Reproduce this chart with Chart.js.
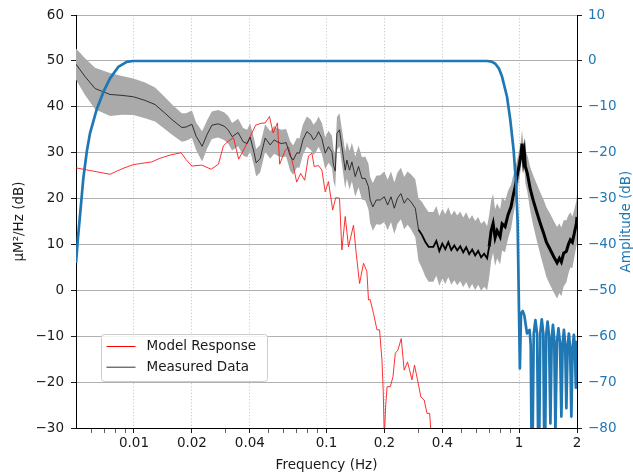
<!DOCTYPE html>
<html>
<head>
<meta charset="utf-8">
<script src="https://cdn.jsdelivr.net/npm/chart.js@4/dist/chart.umd.min.js"></script>
<style>
  html, body { margin: 0; padding: 0; background: #fff; }
  #wrap { width: 633px; height: 472px; }
</style>
</head>
<body>
<div id="wrap"><canvas id="c" width="633" height="472"></canvas></div>
<script>
// Measured power spectral density (mean and one-sigma spread), µM²/Hz in dB
const measuredFreq = [
  0.005, 0.00557, 0.00628, 0.00751, 0.00867, 0.00993, 0.01142, 0.01287, 0.01451, 0.01578,
  0.01772, 0.01865, 0.02, 0.02103, 0.02259, 0.02399, 0.02538, 0.02736, 0.02939, 0.03084,
  0.03235, 0.03476, 0.0369, 0.03871, 0.04012, 0.04209, 0.04311, 0.04522, 0.04801, 0.051,
  0.05348, 0.05543, 0.05815, 0.06173, 0.06475, 0.06712, 0.07016, 0.07238, 0.07538, 0.07908,
  0.08295, 0.08558, 0.08839, 0.09086, 0.09463, 0.09847, 0.1024, 0.1067, 0.1087, 0.111,
  0.1133, 0.1168, 0.1202, 0.1251, 0.1276, 0.1317, 0.1355, 0.141, 0.1467, 0.1528,
  0.1589, 0.1652, 0.1685, 0.1741, 0.1813, 0.1901, 0.1996, 0.2077, 0.2163, 0.225,
  0.2338, 0.2435, 0.2532, 0.2636, 0.2745, 0.2892, 0.3006, 0.3131, 0.3257, 0.3391,
  0.3589, 0.372, 0.3855, 0.3995, 0.4141, 0.4291, 0.4447, 0.4609, 0.4776, 0.495,
  0.513, 0.5317, 0.551, 0.571, 0.5918, 0.6133, 0.6356, 0.6587, 0.6827, 0.6992,
  0.7161, 0.7334, 0.7511, 0.7693, 0.7973, 0.8166, 0.8462, 0.877, 0.9089, 0.9309,
  0.9534, 0.9765, 1.004, 1.022, 1.037, 1.053, 1.066, 1.078, 1.104, 1.145,
  1.187, 1.241, 1.291, 1.343, 1.387, 1.455, 1.508, 1.576, 1.62, 1.659,
  1.705, 1.761, 1.804, 1.847, 1.892, 1.938, 1.984, 2.0
];
const measuredDb = [
  49.3, 46.6, 44.0, 42.7, 42.5, 42.2, 41.4, 40.5, 38.6, 37.2,
  35.5, 35.6, 36.2, 33.6, 31.4, 34.0, 36.0, 36.3, 35.8, 35.0,
  33.5, 34.4, 32.4, 32.0, 33.4, 30.0, 27.8, 28.7, 33.2, 31.7,
  32.8, 32.4, 32.0, 32.2, 29.3, 28.4, 30.0, 29.9, 32.8, 34.6,
  33.9, 32.8, 33.5, 34.6, 33.1, 29.9, 31.3, 30.2, 27.3, 26.0,
  34.2, 35.0, 31.3, 26.2, 28.4, 26.2, 28.0, 24.8, 27.0, 24.4,
  24.4, 22.6, 19.7, 18.2, 19.7, 19.7, 20.4, 18.6, 20.4, 17.9,
  20.1, 21.1, 19.0, 20.1, 19.3, 17.9, 13.2, 12.1, 10.6, 9.5,
  9.5, 10.8, 8.6, 10.2, 9.0, 10.5, 8.8, 9.8, 8.7, 9.6,
  8.3, 9.4, 7.9, 8.9, 7.6, 8.6, 7.2, 8.0, 7.0, 9.5,
  13.0, 14.6, 11.5, 13.0, 11.7, 14.5, 13.9, 16.5, 18.2, 20.5,
  22.5, 24.8, 27.5, 29.5, 32.0, 28.5, 30.0, 27.0, 25.5, 22.0,
  19.5, 16.8, 14.5, 12.4, 10.5, 8.8, 7.5, 6.0, 7.0, 6.2,
  8.1, 8.5, 10.0, 11.0, 10.5, 12.5, 14.5, 16.0
];
const measuredSpread = [
  3.4, 4.0, 4.5, 4.7, 4.2, 4.0, 3.9, 3.7, 3.5, 3.3,
  3.1, 3.0, 3.0, 3.0, 3.3, 3.1, 3.0, 3.0, 3.0, 3.0,
  3.0, 3.0, 3.0, 3.0, 3.0, 3.0, 3.0, 3.0, 3.0, 3.0,
  3.0, 3.0, 3.0, 3.0, 3.2, 3.2, 3.2, 3.2, 3.3, 3.3,
  3.3, 3.3, 3.3, 3.3, 3.4, 3.5, 3.5, 3.5, 3.5, 3.6,
  3.6, 3.6, 3.8, 4.0, 4.0, 4.2, 4.2, 4.4, 4.5, 4.6,
  4.8, 5.0, 5.0, 5.2, 5.3, 5.4, 5.5, 5.5, 5.5, 5.6,
  5.6, 5.6, 5.7, 5.8, 6.0, 6.3, 6.8, 7.2, 7.5, 7.6,
  7.6, 7.6, 7.6, 7.6, 7.6, 7.6, 7.6, 7.6, 7.6, 7.6,
  7.6, 7.6, 7.6, 7.5, 7.5, 7.4, 7.3, 7.2, 7.0, 6.8,
  6.6, 6.4, 6.2, 6.0, 6.0, 5.8, 5.6, 5.2, 4.8, 4.4,
  4.0, 3.6, 3.2, 3.0, 3.0, 3.2, 3.4, 3.6, 4.0, 4.8,
  5.5, 6.2, 6.8, 7.3, 7.6, 7.8, 7.8, 7.8, 7.6, 7.5,
  7.2, 6.8, 6.4, 6.0, 5.6, 5.2, 5.0, 5.0
];

// Model response, µM²/Hz in dB
const modelFreq = [
  0.005, 0.00613, 0.00751, 0.00867, 0.0099, 0.01102, 0.01237, 0.01367, 0.01541, 0.01758,
  0.01865, 0.02, 0.02251, 0.02516, 0.02746, 0.02915, 0.03084, 0.03286, 0.03497, 0.03735,
  0.04046, 0.04285, 0.0456, 0.04801, 0.05056, 0.05285, 0.05563, 0.05712, 0.061, 0.06361,
  0.06736, 0.07, 0.07343, 0.07704, 0.08063, 0.08398, 0.08629, 0.09086, 0.09463, 0.09847,
  0.1024, 0.1077, 0.1116, 0.1168, 0.1202, 0.1251, 0.1301, 0.1381, 0.1427, 0.1485,
  0.1557, 0.1621, 0.1652, 0.1685, 0.1754, 0.1828, 0.1886, 0.1941, 0.1971, 0.1996,
  0.2031, 0.2063, 0.2145, 0.2215, 0.2277, 0.235, 0.2444, 0.2532, 0.2636, 0.2779,
  0.2864, 0.297, 0.309, 0.3216, 0.3326, 0.3432, 0.3505
];
const modelDb = [
  26.7, 26.0, 25.3, 26.5, 27.4, 27.7, 28.0, 28.8, 29.5, 30.0,
  28.5, 27.1, 27.3, 26.4, 27.5, 31.5, 32.5, 33.3, 28.6, 30.8,
  33.8, 36.0, 36.4, 36.5, 37.9, 34.3, 36.5, 27.5, 30.5, 31.2,
  27.0, 23.6, 25.5, 24.0, 29.3, 29.9, 27.0, 27.2, 26.2, 21.5,
  23.7, 17.5, 20.2, 20.1, 8.8, 16.1, 9.5, 14.2, 8.0, 1.5,
  5.9, 4.1, -2.1, -2.0, -5.0, -8.6, -8.6, -15.2, -22.0, -32.0,
  -25.0, -21.0, -21.0, -18.8, -13.7, -13.0, -10.5, -17.4, -15.6, -19.5,
  -16.3, -19.5, -23.2, -23.9, -26.8, -26.8, -32.0
];

// Band-pass filter amplitude response, dB
const filterFreq = [
  0.005, 0.00512, 0.00525, 0.00546, 0.0057, 0.00591, 0.00641, 0.00693, 0.00751, 0.00829,
  0.00917, 0.0099, 0.682, 0.72, 0.753, 0.785, 0.816, 0.866, 0.901, 0.937, 0.965, 0.983,
  1.01, 1.024, 1.045, 1.066, 1.1, 1.135, 1.15, 1.168,
  1.192, 1.216, 1.241, 1.265, 1.289, 1.312, 1.336, 1.359,
  1.383, 1.407, 1.431, 1.455, 1.478, 1.5, 1.523, 1.545,
  1.574, 1.602, 1.631, 1.659, 1.685, 1.71, 1.736, 1.761,
  1.788, 1.815, 1.842, 1.869, 1.898, 1.926, 1.952, 1.972, 2.0
];
const filterDb = [
  -44, -38.5, -33.5, -25.5, -19.5, -15.8, -10.5, -6.8, -3.8, -1.3,
  -0.2, 0, 0, -0.15, -0.6, -1.6, -3.4, -7.8, -12.9, -19.4, -26.7, -35,
  -67, -55, -54.5, -55.5, -59.4, -58.6, -62, -95,
  -59.5, -56.5, -59.5, -95, -59.3, -56.3, -59.3, -95,
  -59.8, -56.8, -59.8, -79, -60.5, -57.5, -60.5, -80.5,
  -61.3, -58.3, -61.3, -77.5, -61.6, -58.6, -61.6, -75.7,
  -62.4, -59.4, -62.4, -77.5, -62.7, -59.7, -62.7, -71.2, -61
];

// Axis ticks
const tickFreqs = [0.01, 0.02, 0.04, 0.1, 0.2, 0.4, 1, 2];
const tickLabels = ['0.01', '0.02', '0.04', '0.1', '0.2', '0.4', '1', '2'];
const minorFreqs = [0.006, 0.007, 0.008, 0.009, 0.03, 0.05, 0.06, 0.07, 0.08, 0.09, 0.3, 0.5, 0.6, 0.7, 0.8, 0.9];
const psdRange = [-30, 60];
const ampRange = [-80, 10];

const toPoints = (xs, ys) => xs.map((x, i) => ({ x: x, y: ys[i] }));
const minus = v => (v < 0 ? '\u2212' + Math.abs(v) : String(v));

const BLUE = '#1f77b4';
const TEXT = '#1a1a1a';
const FONT = "'DejaVu Sans', 'Liberation Sans', sans-serif";

Chart.defaults.font.family = FONT;
Chart.defaults.font.size = 13.5;
Chart.defaults.color = TEXT;

// Legend box drawn inside the plot area, lower left
const innerLegend = {
  id: 'innerLegend',
  afterDatasetsDraw(chart) {
    const { ctx, chartArea: a } = chart;
    const x = Math.round(a.left + 25) + 0.5;
    const y = Math.round(a.top + 319) + 0.5;
    const w = 166, h = 47;
    ctx.save();
    ctx.beginPath();
    ctx.roundRect(x, y, w, h, 3);
    ctx.fillStyle = 'rgba(255,255,255,0.85)';
    ctx.fill();
    ctx.strokeStyle = '#cccccc';
    ctx.lineWidth = 1;
    ctx.stroke();
    const items = [
      { label: chart.data.datasets[2].label, color: '#ff0000', width: 1 },
      { label: chart.data.datasets[1].label, color: '#333333', width: 1 }
    ];
    ctx.font = '13.5px ' + FONT;
    ctx.textBaseline = 'middle';
    ctx.textAlign = 'left';
    items.forEach((it, i) => {
      const cy = y + 12 + i * 20.7;
      ctx.beginPath();
      ctx.moveTo(x + 5, cy);
      ctx.lineTo(x + 34, cy);
      ctx.strokeStyle = it.color;
      ctx.lineWidth = it.width;
      ctx.stroke();
      ctx.fillStyle = TEXT;
      ctx.fillText(it.label, x + 45, cy);
    });
    ctx.restore();
  }
};

// Right-hand axis title, reading bottom to top
const rightTitle = {
  id: 'rightTitle',
  afterDraw(chart) {
    const { ctx, chartArea: a } = chart;
    ctx.save();
    ctx.translate(626.5, (a.top + a.bottom) / 2);
    ctx.rotate(-Math.PI / 2);
    ctx.font = '13.5px ' + FONT;
    ctx.fillStyle = BLUE;
    ctx.textAlign = 'center';
    ctx.textBaseline = 'middle';
    ctx.fillText('Amplitude (dB)', 0, 0);
    ctx.restore();
  }
};

const upper = measuredDb.map((v, i) => v + measuredSpread[i]);
const lower = measuredDb.map((v, i) => v - measuredSpread[i]);

new Chart(document.getElementById('c'), {
  type: 'line',
  data: {
    datasets: [
      {
        label: 'Filter',
        data: toPoints(filterFreq, filterDb),
        yAxisID: 'y2',
        borderColor: BLUE,
        borderWidth: 2.7,
        pointRadius: 0,
        tension: 0,
        clip: 0,
        borderJoinStyle: 'round'
      },
      {
        label: 'Measured Data',
        data: toPoints(measuredFreq, measuredDb),
        yAxisID: 'y',
        borderColor: '#111111',
        borderWidth: 0.9,
        pointRadius: 0,
        tension: 0,
        clip: 0,
        segment: {
          borderWidth: c => (c.p0.parsed.x >= 0.69 ? 3 : (c.p0.parsed.x >= 0.29 ? 1.8 : 0.9)),
          borderColor: c => (c.p0.parsed.x >= 0.29 ? '#000000' : '#222222')
        }
      },
      {
        label: 'Model Response',
        data: toPoints(modelFreq, modelDb),
        yAxisID: 'y',
        borderColor: '#ff1a1a',
        borderWidth: 0.9,
        pointRadius: 0,
        tension: 0,
        clip: 0
      },
      {
        label: 'Spread upper',
        data: toPoints(measuredFreq, upper),
        yAxisID: 'y',
        borderWidth: 0,
        borderColor: 'rgba(0,0,0,0)',
        pointRadius: 0,
        tension: 0,
        clip: 0,
        fill: false
      },
      {
        label: 'Spread lower',
        data: toPoints(measuredFreq, lower),
        yAxisID: 'y',
        borderWidth: 0,
        borderColor: 'rgba(0,0,0,0)',
        backgroundColor: '#aaaaaa',
        pointRadius: 0,
        tension: 0,
        clip: 0,
        fill: '-1'
      }
    ]
  },
  options: {
    responsive: false,
    animation: false,
    devicePixelRatio: 1,
    events: [],
    layout: { padding: { top: 15, left: 0, right: 0, bottom: 0 } },
    plugins: {
      legend: { display: false },
      tooltip: { enabled: false },
      filler: { propagate: false }
    },
    scales: {
      x: {
        type: 'logarithmic',
        min: 0.005,
        max: 2,
        afterBuildTicks: s => {
          s.ticks = tickFreqs.concat(minorFreqs).sort((a, b) => a - b).map(v => ({ value: v }));
        },
        afterFit: s => { s.height = 44; },
        ticks: {
          autoSkip: false,
          maxRotation: 0,
          minRotation: 0,
          padding: 2,
          color: TEXT,
          callback: v => {
            const i = tickFreqs.indexOf(v);
            return i >= 0 ? tickLabels[i] : '';
          }
        },
        grid: {
          color: c => (c.tick && tickFreqs.includes(c.tick.value) ? '#c4c4c4' : 'rgba(0,0,0,0)'),
          lineWidth: 0.9,
          tickColor: TEXT,
          tickLength: 5,
          tickWidth: c => (c.tick && tickFreqs.includes(c.tick.value) ? 1 : 0.7)
        },
        border: { display: true, color: '#000000', width: 1, dash: [1.2, 2] },
        title: {
          display: true,
          text: 'Frequency (Hz)',
          color: TEXT,
          font: { size: 13.5, lineHeight: 1.0 },
          padding: { top: 0, bottom: 0 }
        }
      },
      y: {
        type: 'linear',
        position: 'left',
        min: psdRange[0],
        max: psdRange[1],
        afterFit: s => { s.width = 76; },
        ticks: { stepSize: 10, padding: 7, color: TEXT, callback: minus },
        grid: { color: '#b0b0b0', lineWidth: 1, tickColor: TEXT, tickLength: 5 },
        border: { display: true, color: '#000000', width: 1 },
        title: {
          display: true,
          text: 'µM²/Hz (dB)',
          color: TEXT,
          font: { size: 13.5, lineHeight: 1.2 },
          padding: { top: 11, bottom: 0 }
        }
      },
      y2: {
        type: 'linear',
        position: 'right',
        min: ampRange[0],
        max: ampRange[1],
        afterFit: s => { s.width = 56; },
        ticks: { stepSize: 10, padding: 6, color: BLUE, callback: minus },
        grid: { drawOnChartArea: false, tickColor: TEXT, tickLength: 5 },
        border: { display: true, color: '#000000', width: 1 }
      }
    }
  },
  plugins: [innerLegend, rightTitle]
});
</script>
</body>
</html>
